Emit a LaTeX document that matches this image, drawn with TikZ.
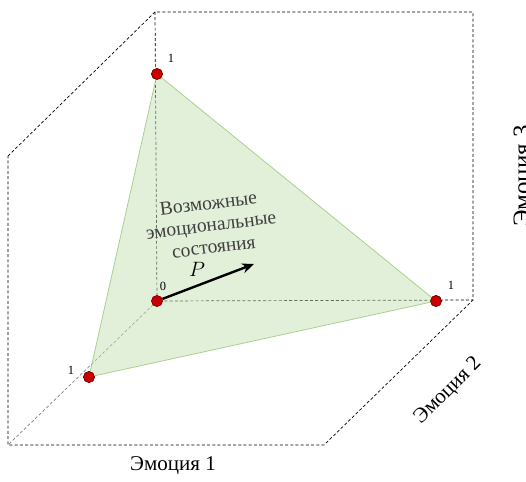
\documentclass[tikz,border=0pt]{standalone}
\usepackage{fontspec}
\setmainfont{Liberation Serif}
\usepackage{tikz}
\usetikzlibrary{arrows.meta}

\definecolor{planefill}{RGB}{197,224,180}
\definecolor{planeedge}{RGB}{169,209,142}
\definecolor{dotred}{RGB}{200,0,0}
\definecolor{dotedge}{RGB}{120,0,0}

\begin{document}
\begin{tikzpicture}[x=1pt, y=-1pt, every node/.style={font=\fontsize{21}{25}\selectfont},
    edge/.style={dashed, dash pattern=on 3pt off 2.2pt, line width=0.7pt},
    dot/.style={circle, fill=dotred, draw=dotedge, line width=0.6pt, inner sep=0pt, minimum size=11pt},
    tick/.style={font=\fontsize{12.5}{14}\selectfont, inner sep=1pt}]
  \useasboundingbox (0,0) rectangle (526,481);

  % Cube corners
  \coordinate (o) at (157,301);
  \coordinate (a1) at (8,445);
  \coordinate (a2) at (473,300);
  \coordinate (a3) at (155,12);
  \coordinate (a13) at (8,156);
  \coordinate (a23) at (473,12);
  \coordinate (a12) at (324,445);

  % Cube edges
  \draw[edge] (a13) -- (a3) -- (a23) -- (a2) -- (a12) -- (a1) -- cycle;
  \draw[edge] (a3) -- (o) -- (a2);
  \draw[edge, gray] (o) -- (a1);

  % Unit points
  \node[dot] (e3) at (157,74) {};
  \node[dot] (e2) at (436,301) {};
  \node[dot] (e1) at (89,377) {};
  \node[dot] (p0) at (o) {};

  % Plane of possible states
  \fill[planefill, fill opacity=0.5] (e3.center) -- (e2.center) -- (e1.center) -- cycle;
  \draw[planeedge, line width=0.8pt] (e3.center) -- (e2.center) -- (e1.center) -- cycle;
  \foreach \p in {e1,e2,e3,p0} \node[dot] at (\p) {};

  % Tick labels
  \node[tick] (l3) at (171,58) {1};
  \node[tick] (l2) at (451,285) {1};
  \node[tick] (l1) at (71,370) {1};
  \node[tick] (l0) at (163,286) {0};

  % Vector P
  \coordinate (ptip) at (254,264);
  \draw[-{Stealth[length=12pt, width=10pt]}, line width=2.4pt] (p0) -- (ptip);
  \node (plab) at (197,269) {$P$};

  % Caption inside the plane
  \node[align=center, rotate=7, text=black!75, font=\fontsize{19.5}{22}\selectfont] (states) at (211,225)
    {Возможные\\эмоциональные\\состояния};

  % Axis names
  \node (ax1) at (173,466) {Эмоция 1};
  \node[rotate=45] (ax2) at (448,391) {Эмоция 2};
  \node[rotate=90, anchor=north, font=\fontsize{25}{30}\selectfont] (ax3) at (510,176) {Эмоция 3};
\end{tikzpicture}
\end{document}
